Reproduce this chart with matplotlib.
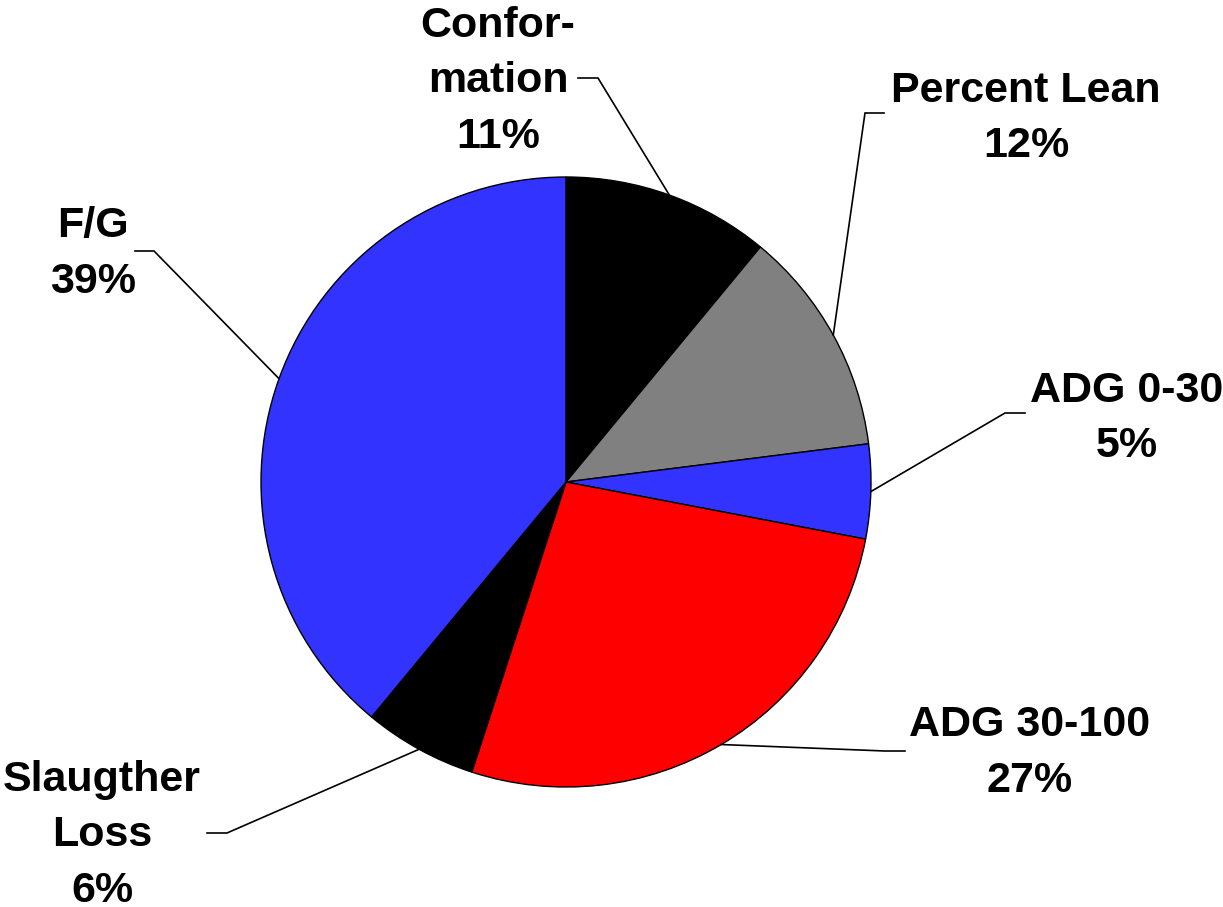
import numpy as np
import matplotlib
matplotlib.use("Agg")
import matplotlib.pyplot as plt

# ---- data ----
categories = ["Conformation", "Percent Lean", "ADG 0-30", "ADG 30-100", "Slaugther Loss", "F/G"]
label_texts = ["Confor-\nmation", "Percent Lean", "ADG 0-30", "ADG 30-100", "Slaugther\nLoss", "F/G"]
values = [11, 12, 5, 27, 6, 39]
colors = ["#000000", "#808080", "#3333FF", "#FF0000", "#000000", "#3333FF"]

W, H = 1223, 907
fig = plt.figure(figsize=(W / 100, H / 100), dpi=100)
ax = fig.add_axes([0, 0, 1, 1])

cx, cy, R = 566, H - 482, 305
wedges, _ = ax.pie(values, colors=colors, startangle=90, counterclock=False,
                   center=(cx, cy), radius=R,
                   wedgeprops=dict(edgecolor="black", linewidth=1.0))
ax.set_xlim(0, W)
ax.set_ylim(0, H)
ax.axis("off")

# label placement (pixel coords from top): x-center, last-line baseline y; elbow start/end
label_pos = [(498, 148), (1026, 157), (1127, 457), (1030, 792), (102, 902), (93, 293)]
elbows = [((578, 78), (598, 78)),
          ((884, 113), (865, 113)),
          ((1025, 413), (1005, 413)),
          ((905, 751), (885, 751)),
          ((207, 833), (227, 833)),
          ((135, 251), (154, 251))]

for w, lab, v, (lx, ly), (p0, p1) in zip(wedges, label_texts, values, label_pos, elbows):
    ax.text(lx, H - ly, f"{lab}\n{v}%", ha="center", va="baseline",
            fontsize=31, fontweight="bold", family="Liberation Sans",
            linespacing=1.5, color="black")
    mid = np.deg2rad((w.theta1 + w.theta2) / 2)
    ex, ey = cx + R * np.cos(mid), cy + R * np.sin(mid)
    ax.plot([p0[0], p1[0], ex], [H - p0[1], H - p1[1], ey], color="black", lw=1.2,
            solid_joinstyle="miter")

fig.savefig("out.png", dpi=100, facecolor="white")
